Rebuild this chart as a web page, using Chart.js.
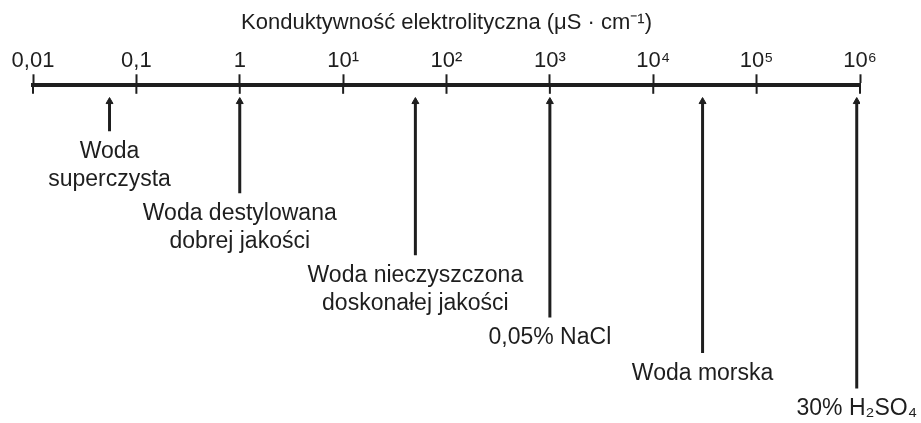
<!DOCTYPE html>
<html>
<head>
<meta charset="utf-8">
<script src="https://cdn.jsdelivr.net/npm/chart.js@4/dist/chart.umd.min.js"></script>
<style>
  html, body { margin: 0; background: #fff; }
  #wrap { width: 921px; height: 423px; }
</style>
</head>
<body>
<div id="wrap"><canvas id="c"></canvas></div>
<script>
// scale ticks (log axis, uS/cm)
const tickValues = [0.01, 0.1, 1, 10, 100, 1000, 1e4, 1e5, 1e6];
const tickLabels = ['0,01', '0,1', '1', '10¹', '10²', '10³', '10⁴', '10⁵', '10⁶'];
const axisTitle = 'Konduktywność elektrolityczna (μS · cm⁻¹)';

// samples pointed at by arrows
const sampleNames = [
  ['Woda', 'superczysta'],
  ['Woda destylowana', 'dobrej jakości'],
  ['Woda nieczyszczona', 'doskonałej jakości'],
  ['0,05% NaCl'],
  ['Woda morska'],
  ['30% H₂SO₄']
];
const sampleValues = [0.055, 1, 50, 1000, 30000, 930000];

const ink = '#1e1e1e';
const FONT = '"Liberation Sans", Arial, sans-serif';

// labels stack downwards one after another, arrow stops just above its label
var labelTops = [];
var pos = 68;
for (var i = 0; i < sampleNames.length; i++) {
  labelTops.push(pos);
  pos += 36 + (sampleNames[i].length - 1) * 27;
}

var datasets = sampleValues.map(function (v, i) {
  return {
    data: [{x: v, y: 17}, {x: v, y: labelTops[i] - 21}],
    borderColor: ink,
    borderWidth: 3,
    pointStyle: 'triangle',
    pointRadius: [4, 0],
    pointBackgroundColor: ink,
    pointBorderColor: ink,
    pointBorderWidth: 1
  };
});

const labelsPlugin = {
  id: 'labels',
  afterDatasetsDraw: function (chart) {
    var ctx = chart.ctx, x = chart.scales.x, y = chart.scales.y;
    var top = chart.chartArea.top;
    ctx.save();
    // tick marks below the axis line
    ctx.strokeStyle = ink;
    ctx.lineWidth = 2;
    tickValues.forEach(function (v) {
      var px = x.getPixelForValue(v);
      ctx.beginPath();
      ctx.moveTo(px, top);
      ctx.lineTo(px, top + 9);
      ctx.stroke();
    });
    ctx.font = '23px ' + FONT;
    ctx.fillStyle = ink;
    ctx.textAlign = 'center';
    ctx.textBaseline = 'middle';
    sampleNames.forEach(function (lines, i) {
      var px = x.getPixelForValue(sampleValues[i]);
      lines.forEach(function (t, j) {
        ctx.fillText(t, px, y.getPixelForValue(labelTops[i] + j * 28));
      });
    });
    ctx.restore();
  }
};

new Chart(document.getElementById('c'), {
  type: 'line',
  data: {datasets: datasets},
  plugins: [labelsPlugin],
  options: {
    responsive: true,
    maintainAspectRatio: false,
    animation: false,
    layout: {padding: {top: 10, left: 33, right: 61, bottom: 0}},
    plugins: {legend: {display: false}, tooltip: {enabled: false}},
    scales: {
      x: {
        type: 'logarithmic',
        position: 'top',
        min: 0.01,
        max: 1e6,
        afterBuildTicks: function (s) {
          s.ticks = tickValues.map(function (v) { return {value: v}; });
        },
        ticks: {
          callback: function (val, idx) { return tickLabels[idx]; },
          autoSkip: false,
          maxRotation: 0,
          padding: 0,
          color: ink,
          font: {size: 22, family: FONT}
        },
        grid: {drawOnChartArea: false, tickLength: 10.5, tickWidth: 2, tickColor: ink},
        border: {width: 4, color: ink},
        title: {
          display: true,
          text: axisTitle,
          color: ink,
          font: {size: 22, family: FONT},
          padding: {top: 0, bottom: 11.5}
        }
      },
      y: {type: 'linear', reverse: true, min: 0, max: 338, display: false}
    }
  }
});
</script>
</body>
</html>
